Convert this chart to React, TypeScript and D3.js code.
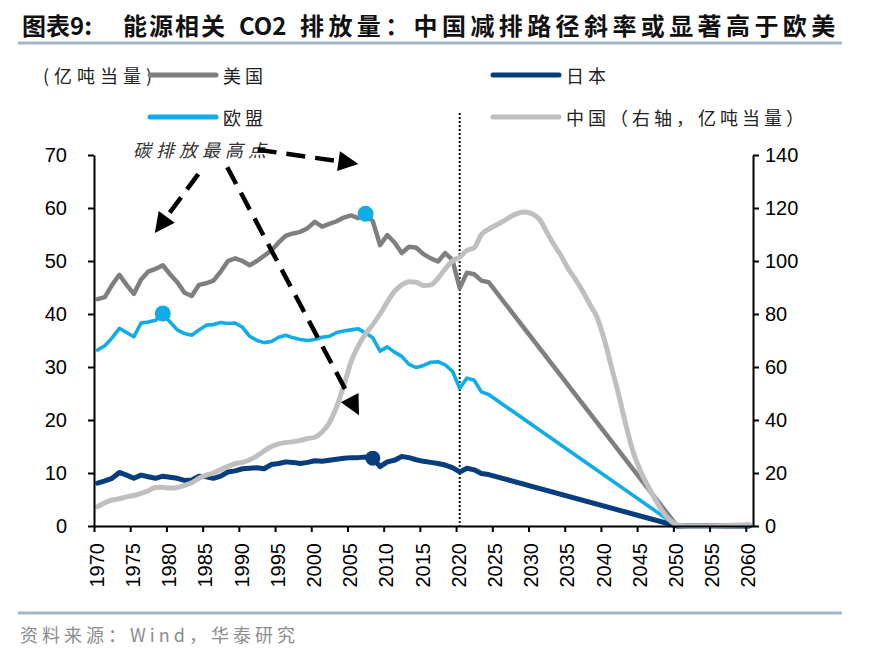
import React, { useEffect, useRef } from "react";
import * as d3 from "d3";

// categories
const years = d3.range(1970, 2061);
const tickYears = d3.range(1970, 2061, 5);
const leftTicks = [0, 10, 20, 30, 40, 50, 60, 70];
const rightTicks = [0, 20, 40, 60, 80, 100, 120, 140];

// 1970-2024, 亿吨当量
const histYears = d3.range(1970, 2025);
const usValues = [
  42.8, 43.2, 45.5, 47.4, 45.5, 43.8, 46.5, 48.0, 48.5, 49.2,
  47.5, 46.0, 44.0, 43.4, 45.5, 45.8, 46.3, 48.0, 50.0, 50.5,
  50.0, 49.2, 50.0, 51.0, 52.0, 53.5, 54.8, 55.2, 55.5, 56.2,
  57.4, 56.5, 57.0, 57.5, 58.2, 58.6, 58.1, 58.9, 57.5, 53.0,
  54.9, 53.5, 51.5, 52.7, 52.5, 51.3, 50.5, 49.9, 51.5, 50.2,
  44.9, 47.8, 47.5, 46.3, 46.0,
];
const euValues = [
  33.2, 34.0, 35.5, 37.3, 36.5, 35.7, 38.3, 38.5, 38.8, 40.1,
  38.5, 37.0, 36.3, 36.0, 37.0, 37.9, 38.0, 38.4, 38.2, 38.3,
  37.5, 35.8, 35.0, 34.6, 34.8, 35.6, 36.0, 35.5, 35.2, 35.0,
  35.2, 35.6, 35.8, 36.5, 36.8, 37.0, 37.2, 36.4, 35.5, 33.0,
  33.8, 32.8, 32.0, 30.5, 29.9, 30.3, 30.9, 31.0, 30.4, 29.2,
  26.0, 27.9, 27.5, 25.3, 24.8,
];
const jpValues = [
  8.1, 8.5, 9.0, 10.1, 9.6, 9.0, 9.6, 9.3, 9.0, 9.4,
  9.2, 9.0, 8.6, 8.7, 9.4, 9.3, 9.0, 9.4, 10.2, 10.4,
  10.8, 10.9, 11.0, 10.8, 11.6, 11.8, 12.1, 12.0, 11.8, 12.0,
  12.3, 12.2, 12.4, 12.6, 12.8, 12.9, 12.9, 13.0, 12.8, 11.2,
  12.1, 12.4, 13.1, 12.9, 12.5, 12.2, 12.0, 11.8, 11.5, 11.0,
  10.2, 10.9, 10.6, 9.9, 9.7,
];
// target path end points (year, value)
const netZeroPoints: [number, number][] = [
  [2050, 0],
  [2060, 0],
];
// 中国 1970-2060, right axis
const chinaValues = [
  7.3, 8.8, 9.8, 10.3, 11.0, 11.5, 12.3, 13.3, 14.5, 14.6,
  14.3, 14.5, 15.3, 16.3, 18.0, 19.2, 20.0, 21.3, 22.5, 23.5,
  24.0, 25.0, 26.5, 28.3, 30.0, 31.0, 31.5, 31.8, 32.3, 33.0,
  33.5, 35.5, 39.0, 45.0, 53.0, 62.0, 68.0, 72.5, 76.0, 80.0,
  84.5, 88.5, 91.0, 92.2, 92.0, 90.8, 91.0, 93.5, 97.0, 100.0,
  101.5, 104.0, 105.0, 110.0, 112.0, 113.5, 115.0, 116.7, 118.0, 118.5,
  117.8, 115.8, 111.0, 106.2, 102.0, 97.0, 93.0, 88.5, 83.5, 78.5,
  70.0, 59.6, 49.0, 37.5, 27.5, 20.5, 15.0, 10.0, 5.5, 2.3,
  0.5, 0.1, 0, 0, 0, 0, 0.1, 0.2, 0.3, 0.4, 0.5,
];

const peakYears = { eu: 1979, us: 2007, jp: 2008 };

const COLORS = {
  us: "#7f7f7f",
  jp: "#063d7c",
  eu: "#10ace8",
  cn: "#bfbfbf",
};

// annotation arrows, in (year, left-axis value)
const arrows: { from: [number, number]; to: [number, number] }[] = [
  { from: [1984.4, 66.4], to: [1978.4, 55.3] },
  { from: [1992.6, 71.0], to: [2006.5, 68.3] },
  { from: [1988.4, 67.7], to: [2006.6, 20.9] },
];

const CJK = "'Noto Sans CJK SC', 'Noto Sans', sans-serif";
const LATIN = "'Liberation Sans', Arial, sans-serif";

export default function App() {
  const ref = useRef<SVGSVGElement | null>(null);

  useEffect(() => {
    document.body.style.margin = "0";
    const svg = d3.select(ref.current);
    svg.selectAll("*").remove();

    const plot = { left: 94, right: 753, top: 155, bottom: 526 };

    const x = d3
      .scaleBand<number>()
      .domain(years)
      .range([plot.left, plot.right]);
    const cx = (yr: number) => (x(yr) ?? 0) + x.bandwidth() / 2;
    const xLin = d3
      .scaleLinear()
      .domain([1970, 2061])
      .range([plot.left, plot.right]);
    const yL = d3.scaleLinear().domain([0, 70]).range([plot.bottom, plot.top]);
    const yR = d3.scaleLinear().domain([0, 140]).range([plot.bottom, plot.top]);

    // Title
    const title = svg
      .append("text")
      .attr("y", 35)
      .attr("font-family", CJK)
      .attr("font-weight", 700)
      .attr("font-size", 24)
      .attr("fill", "#111");
    title.append("tspan").attr("x", 22).text("图表9:");
    title.append("tspan").attr("x", 123).attr("letter-spacing", 2).text("能源相关");
    title.append("tspan").attr("x", 239).text("CO2");
    title
      .append("tspan")
      .attr("x", 300)
      .attr("letter-spacing", 4.4)
      .text("排放量：中国减排路径斜率或显著高于欧美");

    svg
      .append("line")
      .attr("x1", 18)
      .attr("x2", 842)
      .attr("y1", 43)
      .attr("y2", 43)
      .attr("stroke", "#a6b6c9")
      .attr("stroke-width", 3);

    // Footer
    svg
      .append("line")
      .attr("x1", 18)
      .attr("x2", 842)
      .attr("y1", 613)
      .attr("y2", 613)
      .attr("stroke", "#a6b6c9")
      .attr("stroke-width", 3);
    svg
      .append("text")
      .attr("x", 20)
      .attr("y", 634)
      .attr("dominant-baseline", "central")
      .attr("font-family", CJK)
      .attr("font-size", 18)
      .attr("letter-spacing", 4)
      .attr("fill", "#8c8c8c")
      .text("资料来源：Wind，华泰研究");

    // Legend
    const legendText = (tx: number, ty: number, label: string) =>
      svg
        .append("text")
        .attr("x", tx)
        .attr("y", ty)
        .attr("dominant-baseline", "central")
        .attr("font-family", CJK)
        .attr("font-size", 18)
        .attr("letter-spacing", 4)
        .attr("fill", "#222")
        .text(label);

    legendText(43, 75, "(亿吨当量)").attr("letter-spacing", 5);

    const legendItems = [
      { label: "美国", color: COLORS.us, lx: 150, ly: 75 },
      { label: "日本", color: COLORS.jp, lx: 493, ly: 75 },
      { label: "欧盟", color: COLORS.eu, lx: 150, ly: 117 },
      { label: "中国（右轴，亿吨当量）", color: COLORS.cn, lx: 493, ly: 117 },
    ];
    legendItems.forEach((d) => {
      svg
        .append("line")
        .attr("x1", d.lx)
        .attr("x2", d.lx + 66)
        .attr("y1", d.ly)
        .attr("y2", d.ly)
        .attr("stroke", d.color)
        .attr("stroke-width", 5)
        .attr("stroke-linecap", "round");
      legendText(d.lx + 73, d.ly, d.label);
    });

    // 2020 divider
    svg
      .append("line")
      .attr("x1", cx(2020))
      .attr("x2", cx(2020))
      .attr("y1", 113)
      .attr("y2", plot.bottom)
      .attr("stroke", "#111")
      .attr("stroke-width", 2)
      .attr("stroke-dasharray", "2 2");

    // Lines
    type Pt = { year: number; value: number };
    const withTail = (vals: number[]): Pt[] => [
      ...histYears.map((yr, i) => ({ year: yr, value: vals[i] })),
      ...netZeroPoints.map(([yr, v]) => ({ year: yr, value: v })),
    ];
    const lineL = d3
      .line<Pt>()
      .x((d) => cx(d.year))
      .y((d) => yL(d.value));
    const lineR = d3
      .line<Pt>()
      .x((d) => cx(d.year))
      .y((d) => yR(d.value))
      .curve(d3.curveMonotoneX);

    const series = [
      { key: "us", data: withTail(usValues), width: 4.5 },
      { key: "jp", data: withTail(jpValues), width: 5 },
      { key: "eu", data: withTail(euValues), width: 3.6 },
    ] as const;
    series.forEach((s) => {
      svg
        .append("path")
        .datum(s.data as Pt[])
        .attr("fill", "none")
        .attr("stroke", COLORS[s.key])
        .attr("stroke-width", s.width)
        .attr("stroke-linejoin", "round")
        .attr("stroke-linecap", "round")
        .attr("d", lineL);
    });
    svg
      .append("path")
      .datum(years.map((yr, i) => ({ year: yr, value: chinaValues[i] })))
      .attr("fill", "none")
      .attr("stroke", COLORS.cn)
      .attr("stroke-width", 5)
      .attr("stroke-linejoin", "round")
      .attr("stroke-linecap", "round")
      .attr("d", lineR);

    // Peak markers
    const peaks = [
      { yr: peakYears.eu, v: euValues[peakYears.eu - 1970], color: COLORS.eu, r: 8 },
      { yr: peakYears.us, v: usValues[peakYears.us - 1970], color: COLORS.eu, r: 8 },
      { yr: peakYears.jp, v: jpValues[peakYears.jp - 1970], color: COLORS.jp, r: 7.5 },
    ];
    svg
      .selectAll(".peak")
      .data(peaks)
      .enter()
      .append("circle")
      .attr("class", "peak")
      .attr("cx", (d) => cx(d.yr))
      .attr("cy", (d) => yL(d.v))
      .attr("r", (d) => d.r)
      .attr("fill", (d) => d.color);

    // Axes
    const styleAxis = (g: d3.Selection<SVGGElement, unknown, null, undefined>) => {
      g.select(".domain").attr("stroke", "#000").attr("stroke-width", 2);
      g.selectAll(".tick line").attr("stroke", "#000").attr("stroke-width", 2);
      g.selectAll(".tick text")
        .attr("fill", "#000")
        .style("font-family", LATIN)
        .style("font-size", "20px");
    };

    const gL = svg
      .append("g")
      .attr("transform", `translate(${plot.left},0)`)
      .call(d3.axisLeft(yL).tickValues(leftTicks).tickSize(6).tickSizeOuter(0).tickPadding(21));
    styleAxis(gL);

    const gR = svg
      .append("g")
      .attr("transform", `translate(${plot.right},0)`)
      .call(d3.axisRight(yR).tickValues(rightTicks).tickSize(6).tickSizeOuter(0).tickPadding(6));
    styleAxis(gR);

    const gB = svg
      .append("g")
      .attr("transform", `translate(0,${plot.bottom})`)
      .call(
        d3
          .axisBottom(xLin)
          .tickValues(tickYears)
          .tickSize(6)
          .tickSizeOuter(0)
          .tickFormat(d3.format("d")) as any,
      );
    styleAxis(gB);
    gB.selectAll(".tick text")
      .attr("transform", "rotate(-90)")
      .attr("text-anchor", "end")
      .attr("x", -17)
      .attr("y", 2)
      .attr("dy", "0.36em");

    // Annotation
    svg
      .append("text")
      .attr("x", xLin(1975.4))
      .attr("y", yL(69.6))
      .attr("font-family", CJK)
      .attr("font-style", "italic")
      .attr("font-size", 18)
      .attr("letter-spacing", 5)
      .attr("fill", "#333")
      .text("碳排放最高点");

    arrows.forEach((a) => {
      const x1 = xLin(a.from[0]);
      const y1 = yL(a.from[1]);
      const x2 = xLin(a.to[0]);
      const y2 = yL(a.to[1]);
      const ang = Math.atan2(y2 - y1, x2 - x1);
      const headLen = 20;
      const headW = 10;
      const bx = x2 - headLen * Math.cos(ang);
      const by = y2 - headLen * Math.sin(ang);
      svg
        .append("line")
        .attr("x1", x1)
        .attr("y1", y1)
        .attr("x2", bx)
        .attr("y2", by)
        .attr("stroke", "#000")
        .attr("stroke-width", 4.5)
        .attr("stroke-dasharray", "19 10");
      const px = -Math.sin(ang);
      const py = Math.cos(ang);
      svg
        .append("polygon")
        .attr(
          "points",
          [
            [x2, y2],
            [bx + px * headW, by + py * headW],
            [bx - px * headW, by - py * headW],
          ]
            .map((p) => p.join(","))
            .join(" "),
        )
        .attr("fill", "#000");
    });
  }, []);

  return <svg ref={ref} width={870} height={657} style={{ display: "block", background: "#fff" }} />;
}
